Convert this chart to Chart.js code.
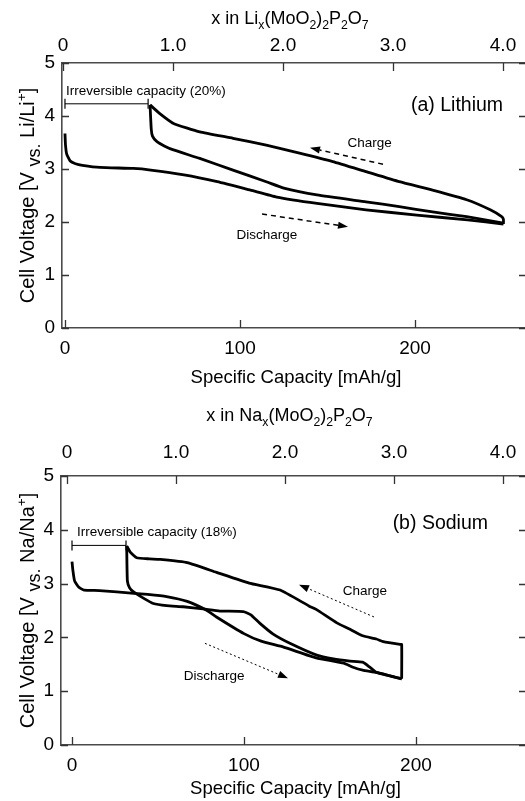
<!DOCTYPE html>
<html>
<head>
<meta charset="utf-8">
<script src="https://cdn.jsdelivr.net/npm/chart.js@4.4.1/dist/chart.umd.min.js"></script>
<style>
html,body{margin:0;padding:0;background:#fff;overflow:hidden}
.panel{position:absolute;left:0;width:540px}
#wrap-li{top:0;height:400px}
#wrap-na{top:400px;height:401px}
</style>
</head>
<body>
<div class="panel" id="wrap-li"><canvas id="chart-li"></canvas></div>
<div class="panel" id="wrap-na"><canvas id="chart-na"></canvas></div>
<script>
'use strict';

// ── ticks ──
const capTicks = [0, 100, 200];
const voltTicks = [0, 1, 2, 3, 4, 5];
const compTicks = [0, 1, 2, 3, 4];
const compTickLabels = ['0', '1.0', '2.0', '3.0', '4.0'];

// ── (a) lithium: capacity [mAh/g] / voltage [V] ──
const liDis1Cap = [0, 0.3, 1, 3, 6, 10, 20, 39, 49, 68, 87, 106, 121, 144, 172, 201, 230, 250.5];
const liDis1V   = [3.67, 3.45, 3.28, 3.15, 3.10, 3.07, 3.03, 3.01, 2.98, 2.89, 2.76, 2.60, 2.47, 2.35, 2.23, 2.13, 2.04, 1.96];
const liChgCap  = [250.5, 250.5, 249.5, 243, 229.5, 210, 191, 172, 153, 134, 115, 96, 77, 62, 54, 48.6];
const liChgV    = [1.96, 2.05, 2.10, 2.23, 2.42, 2.60, 2.76, 2.95, 3.14, 3.30, 3.45, 3.58, 3.70, 3.86, 4.05, 4.21];
const liDis2Cap = [48.6, 49.3, 50, 52.4, 57, 62, 77, 96, 115, 125, 144, 172, 191, 210, 229.5, 250.5];
const liDis2V   = [4.21, 3.75, 3.62, 3.52, 3.43, 3.36, 3.20, 2.98, 2.76, 2.64, 2.51, 2.38, 2.29, 2.19, 2.10, 1.98];
const liIrrevCap = [0, 47.5];
const liIrrevV   = [4.23, 4.23];

// ── (b) sodium ──
const naDis1Cap = [0, 0.5, 1.5, 4, 7, 16, 36, 44, 55, 67, 78, 84, 100, 110, 123, 142, 158, 163, 169, 177, 191.7];
const naDis1V   = [3.41, 3.25, 3.05, 2.93, 2.88, 2.87, 2.82, 2.80, 2.76, 2.67, 2.51, 2.38, 2.07, 1.93, 1.82, 1.62, 1.52, 1.45, 1.39, 1.35, 1.23];
const naChgCap  = [191.7, 191.7, 190.7, 181, 177, 169, 161, 154, 142, 138, 121, 103, 84, 67, 51, 45, 37.6, 34, 31.8];
const naChgV    = [1.23, 1.87, 1.87, 1.92, 1.97, 2.03, 2.16, 2.27, 2.52, 2.58, 2.88, 3.01, 3.21, 3.39, 3.45, 3.46, 3.48, 3.58, 3.70];
const naDis2Cap = [31.8, 32.2, 33.5, 35.6, 41.5, 47.3, 55, 64.7, 76.3, 86, 99.6, 104, 109.3, 117, 126.7, 142.3, 152, 161.6, 169, 173, 177, 191.7];
const naDis2V   = [3.70, 3.05, 2.92, 2.85, 2.73, 2.63, 2.59, 2.57, 2.53, 2.49, 2.48, 2.42, 2.26, 2.06, 1.89, 1.67, 1.60, 1.56, 1.54, 1.45, 1.35, 1.23];
const naIrrevCap = [0, 31.4];
const naIrrevV   = [3.71, 3.71];

const FONT = '"Liberation Sans", Arial, Helvetica, sans-serif';
const AXIS = '#4a4a4a';
Chart.defaults.font.family = FONT;
Chart.defaults.color = '#000';

const pts = (cap, v) => cap.map((c, i) => ({x: c, y: v[i]}));

function curve(data) {
  return {data, showLine: true, borderColor: '#000', borderWidth: 2.8, pointRadius: 0, tension: 0.15, fill: false};
}
function bracket(data) {
  return {data, showLine: true, borderColor: '#000', borderWidth: 1, pointRadius: 5, pointStyle: 'line',
    pointRotation: 90, pointBorderColor: '#000', pointBorderWidth: 1.2};
}

// text with sub/superscript pieces: [text, 'sub'|'sup'|undefined, scale]
function richText(ctx, parts, x, y, size, align) {
  const fnt = (m, k) => `${m ? size * (k || 0.68) : size}px ${FONT}`;
  const w = parts.map(([t, m, k]) => { ctx.font = fnt(m, k); return ctx.measureText(t).width; });
  const total = w.reduce((a, b) => a + b, 0);
  let cx = align === 'center' ? x - total / 2 : align === 'right' ? x - total : x;
  ctx.textAlign = 'left'; ctx.textBaseline = 'alphabetic';
  parts.forEach(([t, m, k], i) => {
    ctx.font = fnt(m, k);
    const dy = m === 'sub' ? size * 0.3 : m === 'sup' ? -size * 0.42 : 0;
    ctx.fillText(t, cx, y + dy);
    cx += w[i];
  });
}

function arrow(ctx, x1, y1, x2, y2, dash, lw) {
  const ang = Math.atan2(y2 - y1, x2 - x1), L = 10, H = 3.6;
  const bx = x2 - L * Math.cos(ang), by = y2 - L * Math.sin(ang);
  ctx.setLineDash(dash); ctx.lineWidth = lw; ctx.strokeStyle = '#000';
  ctx.beginPath(); ctx.moveTo(x1, y1); ctx.lineTo(bx, by); ctx.stroke();
  ctx.setLineDash([]); ctx.fillStyle = '#000';
  ctx.beginPath();
  ctx.moveTo(x2, y2);
  ctx.lineTo(bx + H * Math.sin(ang), by - H * Math.cos(ang));
  ctx.lineTo(bx - H * Math.sin(ang), by + H * Math.cos(ang));
  ctx.closePath(); ctx.fill();
}

const decor = {
  id: 'decor',
  afterDraw(chart, args, o) {
    const {ctx, chartArea: a, scales: {x, x2, y}} = chart;
    ctx.save();
    // inward tick marks on all four sides
    ctx.strokeStyle = '#333'; ctx.lineWidth = 1.3; ctx.beginPath();
    y.ticks.forEach(t => {
      const py = Math.round(y.getPixelForValue(t.value)) + 0.5;
      ctx.moveTo(a.left, py); ctx.lineTo(a.left + 7, py);
      ctx.moveTo(a.right, py); ctx.lineTo(a.right - 7, py);
    });
    x.ticks.forEach(t => {
      const px = Math.round(x.getPixelForValue(t.value)) + 0.5;
      ctx.moveTo(px, a.bottom); ctx.lineTo(px, a.bottom - 8);
    });
    x2.ticks.forEach(t => {
      const px = Math.round(x2.getPixelForValue(t.value)) + 0.5;
      ctx.moveTo(px, a.top); ctx.lineTo(px, a.top + 8);
    });
    ctx.stroke();

    ctx.fillStyle = '#000';
    const cx = (a.left + a.right) / 2;
    richText(ctx, o.topTitle, cx - 4, a.top - o.topGap, 18, 'center');
    richText(ctx, [['Specific Capacity [mAh/g]']], cx + 2, a.bottom + o.bottomGap, 18.5, 'center');
    ctx.save();
    ctx.translate(27, (a.top + a.bottom) / 2);
    ctx.rotate(-Math.PI / 2);
    richText(ctx, o.yTitle, 0, 7, 20, 'center');
    ctx.restore();

    o.notes.forEach(n => {
      richText(ctx, [[n.text]], x.getPixelForValue(n.x), y.getPixelForValue(n.y) + n.size * 0.36, n.size, n.align);
    });
    o.arrows.forEach(r => {
      arrow(ctx, x.getPixelForValue(r.from[0]), y.getPixelForValue(r.from[1]),
        x.getPixelForValue(r.to[0]), y.getPixelForValue(r.to[1]), r.dash, r.width);
    });
    ctx.restore();
  }
};

function makePanel(id, o) {
  const W = 540, b = o.box;
  return new Chart(document.getElementById(id), {
    type: 'scatter',
    data: {datasets: o.datasets},
    plugins: [decor],
    options: {
      responsive: true, maintainAspectRatio: false, animation: false, events: [],
      layout: {padding: {left: 0, top: 0, bottom: 0, right: W - b.right}},
      plugins: {legend: {display: false}, tooltip: {enabled: false}, decor: o.decor},
      scales: {
        x: {type: 'linear', position: 'bottom', min: o.capRange[0], max: o.capRange[1],
          afterBuildTicks: s => { s.ticks = capTicks.map(v => ({value: v})); },
          afterFit: s => { s.height = b.h - b.bottom; },
          grid: {display: false, drawTicks: false}, border: {color: AXIS, width: 1.6},
          ticks: {padding: o.pad.bottom, autoSkip: false, maxRotation: 0, font: {size: 19}}},
        x2: {type: 'linear', position: 'top', min: o.compRange[0], max: o.compRange[1],
          afterBuildTicks: s => { s.ticks = compTicks.map(v => ({value: v})); },
          afterFit: s => { s.height = b.top; },
          grid: {display: false, drawTicks: false}, border: {color: AXIS, width: 1.6},
          ticks: {padding: o.pad.top, autoSkip: false, maxRotation: 0, font: {size: 19},
            callback: v => compTickLabels[compTicks.indexOf(v)]}},
        y: {type: 'linear', position: 'left', min: 0, max: 5,
          afterBuildTicks: s => { s.ticks = voltTicks.map(v => ({value: v})); },
          afterFit: s => { s.width = b.left; },
          grid: {display: false, drawTicks: false}, border: {color: AXIS, width: 1.6},
          ticks: {padding: 7, font: {size: 19}}}
      }
    }
  });
}

makePanel('chart-li', {
  box: {left: 62, right: 526, top: 63, bottom: 328, h: 400},
  capRange: [-1.7, 263.4], compRange: [-0.009, 4.209],
  pad: {top: 6, bottom: 9},
  datasets: [curve(pts(liDis1Cap, liDis1V)), curve(pts(liChgCap, liChgV)), curve(pts(liDis2Cap, liDis2V)),
    bracket(pts(liIrrevCap, liIrrevV))],
  decor: {
    topTitle: [['x in Li'], ['x', 'sub'], ['(MoO'], ['2', 'sub'], [')'], ['2', 'sub'], ['P'], ['2', 'sub'], ['O'], ['7', 'sub']],
    yTitle: [['Cell Voltage [V '], ['vs.', 'sub', 0.9], [' Li/Li'], ['+', 'sup'], [']']],
    topGap: 39, bottomGap: 55,
    notes: [
      {text: '(a) Lithium', x: 250.3, y: 4.23, size: 19.5, align: 'right'},
      {text: 'Irreversible capacity (20%)', x: 0.6, y: 4.49, size: 13.5, align: 'left'},
      {text: 'Charge', x: 174, y: 3.51, size: 13.5, align: 'center'},
      {text: 'Discharge', x: 115.4, y: 1.77, size: 13.5, align: 'center'}
    ],
    arrows: [
      {from: [181.7, 3.09], to: [140, 3.40], dash: [5, 4], width: 1.5},
      {from: [112.6, 2.15], to: [161.7, 1.91], dash: [5, 4], width: 1.5}
    ]
  }
});

makePanel('chart-na', {
  box: {left: 61, right: 526, top: 76, bottom: 345, h: 401},
  capRange: [-6.4, 264], compRange: [-0.055, 4.211],
  pad: {top: 12, bottom: 9},
  datasets: [curve(pts(naDis1Cap, naDis1V)), curve(pts(naChgCap, naChgV)), curve(pts(naDis2Cap, naDis2V)),
    bracket(pts(naIrrevCap, naIrrevV))],
  decor: {
    topTitle: [['x in Na'], ['x', 'sub'], ['(MoO'], ['2', 'sub'], [')'], ['2', 'sub'], ['P'], ['2', 'sub'], ['O'], ['7', 'sub']],
    yTitle: [['Cell Voltage [V '], ['vs.', 'sub', 0.9], [' Na/Na'], ['+', 'sup'], [']']],
    topGap: 55, bottomGap: 49,
    notes: [
      {text: '(b) Sodium', x: 241.9, y: 4.14, size: 19.5, align: 'right'},
      {text: 'Irreversible capacity (18%)', x: 2.9, y: 3.97, size: 13.5, align: 'left'},
      {text: 'Charge', x: 170.3, y: 2.88, size: 13.5, align: 'center'},
      {text: 'Discharge', x: 82.6, y: 1.29, size: 13.5, align: 'center'}
    ],
    arrows: [
      {from: [175.6, 2.38], to: [132, 2.98], dash: [2, 2.5], width: 1},
      {from: [77.3, 1.89], to: [125.6, 1.24], dash: [2, 2.5], width: 1}
    ]
  }
});
</script>
</body>
</html>
